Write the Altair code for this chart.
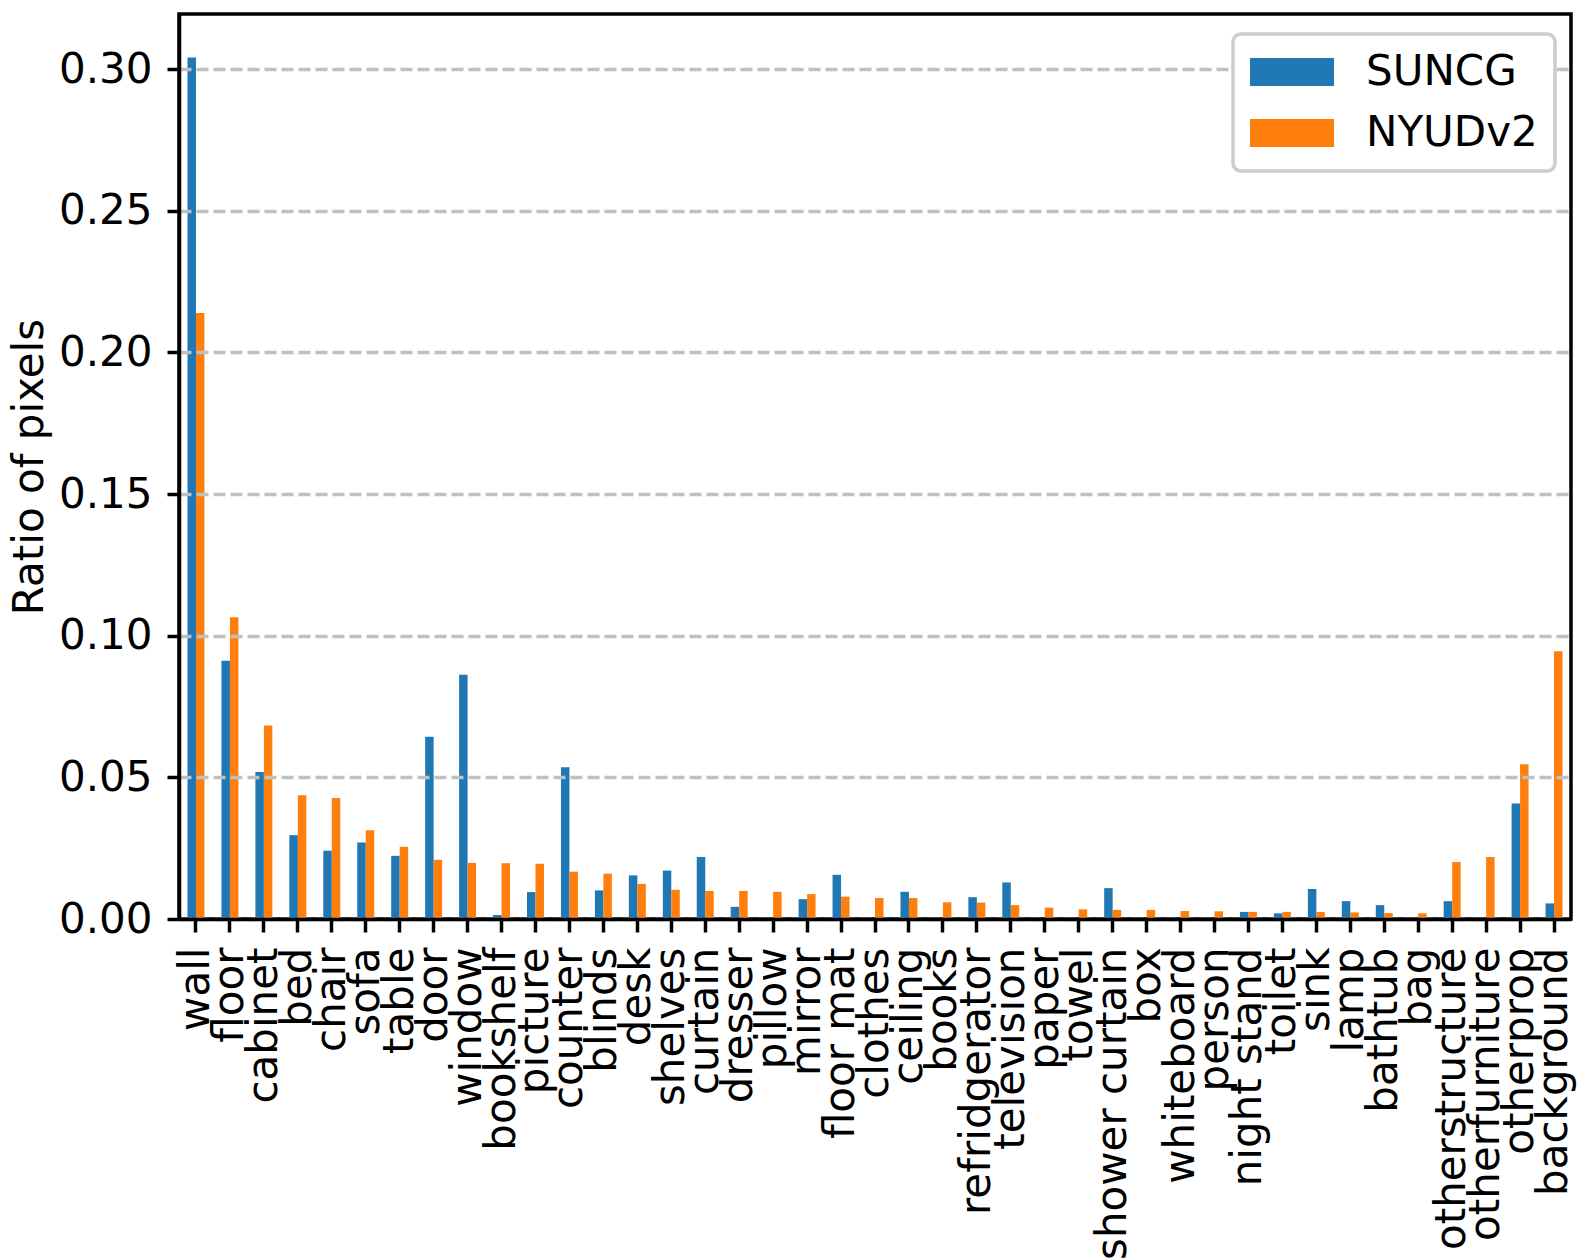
import altair as alt
import pandas as pd

categories = ["wall", "floor", "cabinet", "bed", "chair", "sofa", "table", "door", "window",
              "bookshelf", "picture", "counter", "blinds", "desk", "shelves", "curtain",
              "dresser", "pillow", "mirror", "floor mat", "clothes", "ceiling", "books",
              "refridgerator", "television", "paper", "towel", "shower curtain", "box",
              "whiteboard", "person", "night stand", "toilet", "sink", "lamp", "bathtub",
              "bag", "otherstructure", "otherfurniture", "otherprop", "background"]

suncg = [0.3041, 0.0912, 0.0519, 0.0296, 0.0241, 0.0270, 0.0223, 0.0643, 0.0862,
         0.0014, 0.0095, 0.0536, 0.0101, 0.0154, 0.0171, 0.0219,
         0.0043, 0.0, 0.0070, 0.0156, 0.0, 0.0096, 0.0,
         0.0077, 0.0129, 0.0, 0.0, 0.0109, 0.0,
         0.0, 0.0, 0.0025, 0.0020, 0.0106, 0.0063, 0.0049,
         0.0, 0.0063, 0.0, 0.0408, 0.0055]

nyud = [0.2139, 0.1065, 0.0683, 0.0437, 0.0427, 0.0313, 0.0255, 0.0209, 0.0198,
        0.0197, 0.0195, 0.0167, 0.0160, 0.0124, 0.0103, 0.0099,
        0.0099, 0.0096, 0.0088, 0.0079, 0.0074, 0.0074, 0.0059,
        0.0058, 0.0049, 0.0040, 0.0034, 0.0032, 0.0032,
        0.0028, 0.0027, 0.0025, 0.0025, 0.0025, 0.0023, 0.0021,
        0.0020, 0.0201, 0.0219, 0.0546, 0.0945]

series = ["SUNCG", "NYUDv2"]
colors = ["#1f77b4", "#ff7f0e"]
y_ticks = [0.0, 0.05, 0.10, 0.15, 0.20, 0.25, 0.30]

rows = []
for c, s, n in zip(categories, suncg, nyud):
    rows.append({"category": c, "dataset": "SUNCG", "value": s})
    rows.append({"category": c, "dataset": "NYUDv2", "value": n})
df = pd.DataFrame(rows)

FONT = "DejaVu Sans"
FS = 42

chart = alt.Chart(df).mark_bar().encode(
    x=alt.X("category:N", sort=categories,
            scale=alt.Scale(paddingInner=0.5, paddingOuter=0.25),
            axis=alt.Axis(title=None, labelAngle=270, labelAlign="right",
                          labelBaseline="middle", labelFontSize=FS, labelOverlap=False,
                          labelLimit=1000, labelPadding=15, labelColor="black",
                          tickSize=13, tickWidth=3.5, tickColor="black",
                          domainColor="black", domainWidth=3.5, zindex=1)),
    xOffset=alt.XOffset("dataset:N", sort=series,
                        scale=alt.Scale(paddingInner=0, paddingOuter=0)),
    y=alt.Y("value:Q", scale=alt.Scale(domain=[0, 0.3195], nice=False, zero=True),
            axis=alt.Axis(title="Ratio of pixels", titleFontSize=FS, titleFontWeight="normal",
                          titleColor="black", titlePadding=7,
                          values=y_ticks, format=".2f", labelFontSize=FS,
                          labelColor="black", labelPadding=15,
                          tickSize=12, tickWidth=3.5, tickColor="black",
                          domainColor="black", domainWidth=3.5,
                          grid=True, gridDash=[12, 5], gridColor="#c0c0c0",
                          gridWidth=3.3, zindex=1)),
    color=alt.Color("dataset:N", sort=series,
                    scale=alt.Scale(domain=series, range=colors),
                    legend=alt.Legend(title=None, orient="none", legendX=1054, legendY=20,
                                      labelFontSize=FS, labelColor="black", labelLimit=1000,
                                      symbolType="M-3,-1H3V1H-3Z", symbolSize=784,
                                      symbolOffset=21, labelOffset=53,
                                      symbolStrokeWidth=0, rowPadding=19,
                                      padding=17, fillColor="white",
                                      strokeColor="#cccccc", cornerRadius=8,
                                      labelFont=FONT, zindex=5)),
).properties(
    width=1392, height=905,
    padding={"left": 0, "top": 6, "right": 5, "bottom": 0},
).configure(font=FONT).configure_view(
    stroke="black", strokeWidth=3.5
).configure_legend(
    strokeWidth=3.5
)

chart.save("out.html", embed_options={"renderer": "svg", "actions": False})
